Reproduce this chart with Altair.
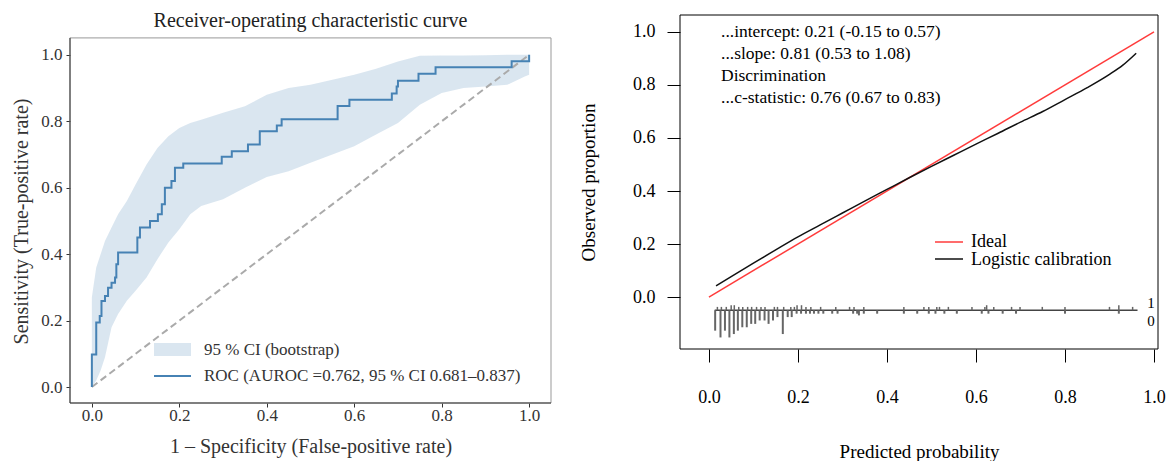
import altair as alt
import pandas as pd

# ---------------- data: ROC panel ----------------
roc_fpr = [0, 0, 0.01, 0.018, 0.022, 0.03, 0.037, 0.045, 0.053, 0.056, 0.06, 0.104, 0.11, 0.133,
           0.151, 0.16, 0.167, 0.182, 0.19, 0.209, 0.297, 0.32, 0.357, 0.384, 0.423, 0.434, 0.562,
           0.589, 0.686, 0.697, 0.70, 0.747, 0.786, 0.96, 1.0]
roc_tpr = [0, 0.098, 0.194, 0.214, 0.259, 0.274, 0.299, 0.314, 0.33, 0.37, 0.405, 0.45, 0.48, 0.50,
           0.52, 0.55, 0.60, 0.62, 0.66, 0.673, 0.693, 0.71, 0.73, 0.77, 0.787, 0.806, 0.846,
           0.865, 0.884, 0.905, 0.922, 0.943, 0.963, 0.981, 1.0]

ci_fpr = [0, 0.01, 0.02, 0.03, 0.045, 0.06, 0.08, 0.1, 0.125, 0.15, 0.175, 0.2, 0.225, 0.25, 0.3,
          0.35, 0.4, 0.45, 0.5, 0.55, 0.6, 0.65, 0.7, 0.75, 0.8, 0.85, 0.9, 0.95, 0.99, 1.0]
ci_lower = [0, 0.02, 0.05, 0.09, 0.18, 0.22, 0.26, 0.29, 0.33, 0.385, 0.435, 0.475, 0.52, 0.545,
            0.565, 0.60, 0.632, 0.65, 0.675, 0.70, 0.725, 0.76, 0.795, 0.85, 0.885, 0.90, 0.905,
            0.91, 0.935, 0.94]
ci_upper = [0.27, 0.36, 0.40, 0.44, 0.48, 0.52, 0.56, 0.61, 0.67, 0.72, 0.755, 0.78, 0.795, 0.805,
            0.826, 0.845, 0.88, 0.90, 0.91, 0.925, 0.94, 0.958, 0.98, 0.997, 0.998, 0.998, 0.999,
            1.0, 1.0, 1.0]

diag_x = [0, 1]
diag_y = [0, 1]

roc_title = "Receiver-operating characteristic curve"
roc_xlabel = "1 – Specificity (False-positive rate)"
roc_ylabel = "Sensitivity (True-positive rate)"
legend_ci = "95 % CI (bootstrap)"
legend_roc = "ROC (AUROC =0.762, 95 % CI 0.681–0.837)"

# ---------------- data: calibration panel ----------------
ideal_p = [0, 1]
ideal_o = [0, 1]
cal_p = [0.016, 0.05, 0.1, 0.15, 0.2, 0.25, 0.3, 0.35, 0.4, 0.45, 0.5, 0.55, 0.6, 0.65, 0.7,
         0.75, 0.8, 0.85, 0.9, 0.93, 0.96]
cal_o = [0.042, 0.077, 0.128, 0.178, 0.227, 0.272, 0.317, 0.362, 0.406, 0.45, 0.493, 0.535, 0.577,
         0.618, 0.66, 0.70, 0.745, 0.79, 0.84, 0.875, 0.92]

nonevent_p = [0.014, 0.026, 0.036, 0.046, 0.056, 0.065, 0.075, 0.085, 0.095, 0.104, 0.114, 0.125,
              0.134, 0.144, 0.154, 0.166, 0.177, 0.186, 0.197, 0.207, 0.218, 0.227, 0.236, 0.246,
              0.257, 0.277, 0.289, 0.324, 0.333, 0.337, 0.348, 0.378, 0.438, 0.468, 0.494, 0.509,
              0.529, 0.557, 0.613, 0.628, 0.66, 0.69, 0.80, 0.921]
nonevent_n = [6, 8, 6, 8, 7, 6, 5, 5, 4, 4, 3, 3, 4, 3, 2, 7, 2, 2, 1, 1, 1, 1, 1, 1, 1, 1, 1, 1,
              1, 1.5, 1, 1, 1, 1, 1, 1, 1, 1, 1, 1, 1, 1, 1, 1]
event_p = [0.019, 0.028, 0.039, 0.050, 0.057, 0.067, 0.076, 0.087, 0.096, 0.107, 0.117, 0.126,
           0.147, 0.154, 0.168, 0.184, 0.192, 0.198, 0.208, 0.218, 0.229, 0.251, 0.285, 0.316,
           0.326, 0.348, 0.438, 0.483, 0.494, 0.512, 0.518, 0.538, 0.591, 0.62, 0.624, 0.64,
           0.68, 0.699, 0.749, 0.80, 0.90, 0.921, 0.952]
event_n = [1, 1, 1, 1.5, 1.5, 1, 1, 1, 1, 1, 1, 1, 1, 1, 1, 1, 1, 1.5, 1.5, 1, 1, 1, 1, 1, 1, 1,
           1, 1, 1, 1, 1, 1, 1, 1, 1.5, 1, 1, 1, 1, 1, 1, 1.5, 1]

stats_lines = ["...intercept: 0.21 (-0.15 to 0.57)", "...slope: 0.81 (0.53 to 1.08)",
               "Discrimination", "...c-statistic: 0.76 (0.67 to 0.83)"]
cal_xlabel = "Predicted probability"
cal_ylabel = "Observed proportion"
legend_ideal = "Ideal"
legend_logistic = "Logistic calibration"

ticks = [0, 0.2, 0.4, 0.6, 0.8, 1.0]
FONT = "Liberation Serif"
one = pd.DataFrame({"a": [0]})

# ================= LEFT PANEL =================
W1, H1 = 481, 388
xs1 = alt.Scale(domain=[-0.05, 1.05], nice=False, zero=False)
ys1 = alt.Scale(domain=[-0.048, 1.12], nice=False, zero=False)

xax1 = alt.Axis(values=ticks, format=".1f", domain=False, tickSize=4, tickColor="#333",
                labelFontSize=17, labelColor="#333", labelPadding=0, labelFont=FONT, grid=False,
                title=roc_xlabel, titleFontSize=20, titleColor="#333", titlePadding=13,
                titleFont=FONT, titleFontWeight="normal")
yax1 = alt.Axis(values=ticks, format=".1f", domain=False, tickSize=4, tickColor="#333",
                labelFontSize=17, labelColor="#333", labelPadding=4, labelFont=FONT, grid=False,
                title=roc_ylabel, titleFontSize=20, titleColor="#333", titlePadding=9,
                titleFont=FONT, titleFontWeight="normal", titleY=206)

ci_df = pd.DataFrame({"fpr": ci_fpr, "lower": ci_lower, "upper": ci_upper})
roc_df = pd.DataFrame({"fpr": roc_fpr, "tpr": roc_tpr, "i": list(range(len(roc_fpr)))})
diag_df = pd.DataFrame({"x": diag_x, "y": diag_y})

band = alt.Chart(ci_df).mark_area(color="#4682b4", opacity=0.2).encode(
    x=alt.X("fpr:Q", scale=xs1, axis=xax1),
    y=alt.Y("lower:Q", scale=ys1, axis=yax1),
    y2="upper:Q",
)
diag = alt.Chart(diag_df).mark_line(color="#aaaaaa", strokeDash=[7, 4], strokeWidth=2).encode(
    x=alt.X("x:Q", scale=xs1, axis=xax1), y=alt.Y("y:Q", scale=ys1, axis=yax1))
roc = alt.Chart(roc_df).mark_line(color="#4682b4", strokeWidth=2, interpolate="step-after").encode(
    x=alt.X("fpr:Q", scale=xs1, axis=xax1), y=alt.Y("tpr:Q", scale=ys1, axis=yax1), order="i:Q")

frame1 = alt.Chart(one).mark_rect(fillOpacity=0, stroke="#999999", strokeWidth=1).encode(
    x=alt.datum(-0.05), x2=alt.datum(1.05), y=alt.datum(-0.048), y2=alt.datum(1.051))
spine_l = alt.Chart(one).mark_rule(color="#333333", strokeWidth=1).encode(
    x=alt.datum(-0.05), y=alt.datum(-0.048), y2=alt.datum(1.051))
spine_b = alt.Chart(one).mark_rule(color="#333333", strokeWidth=1).encode(
    x=alt.datum(-0.05), x2=alt.datum(1.05), y=alt.datum(-0.048))

title1 = alt.Chart(one).mark_text(fontSize=20, color="#222222", baseline="middle").encode(
    x=alt.value(W1 / 2), y=alt.value(6), text=alt.value(roc_title))

leg_patch = alt.Chart(one).mark_rect(color="#4682b4", opacity=0.2).encode(
    x=alt.value(84), x2=alt.value(121), y=alt.value(328), y2=alt.value(341))
leg_line = alt.Chart(one).mark_rule(color="#4682b4", strokeWidth=2).encode(
    x=alt.value(84), x2=alt.value(121), y=alt.value(361))
leg_t1 = alt.Chart(one).mark_text(fontSize=17, color="#333333", align="left", baseline="middle").encode(
    x=alt.value(134), y=alt.value(335), text=alt.value(legend_ci))
leg_t2 = alt.Chart(one).mark_text(fontSize=17, color="#333333", align="left", baseline="middle").encode(
    x=alt.value(134), y=alt.value(361), text=alt.value(legend_roc))

left = alt.layer(band, diag, roc, frame1, spine_l, spine_b, title1,
                 leg_patch, leg_line, leg_t1, leg_t2).properties(width=W1, height=H1)

# ================= RIGHT PANEL =================
W2, H2 = 478, 334
xs2 = alt.Scale(domain=[-0.065, 1.009], nice=False, zero=False)
ys2 = alt.Scale(domain=[-0.196, 1.064], nice=False, zero=False)

xax2 = alt.Axis(values=ticks, format=".1f", domain=False, tickSize=13, tickColor="black",
                labelFontSize=18, labelColor="black", labelPadding=26, labelFont=FONT, grid=False,
                title=cal_xlabel, titleFontSize=19, titleColor="black", titlePadding=36,
                titleFont=FONT, titleFontWeight="normal")
yax2 = alt.Axis(values=ticks, format=".1f", domain=False, tickSize=13, tickColor="black",
                labelFontSize=18, labelColor="black", labelPadding=12, labelFont=FONT, grid=False,
                title=cal_ylabel, titleFontSize=19, titleColor="black", titlePadding=34,
                titleFont=FONT, titleFontWeight="normal")

K = 0.0128
BASE = -0.05
ne_df = pd.DataFrame({"p": nonevent_p, "n": nonevent_n})
ne_df["y0"] = BASE
ne_df["y1"] = BASE - ne_df["n"] * K
ev_df = pd.DataFrame({"p": event_p, "n": event_n})
ev_df["y0"] = BASE
ev_df["y1"] = BASE + ev_df["n"] * K
ideal_df = pd.DataFrame({"p": ideal_p, "o": ideal_o})
cal_df = pd.DataFrame({"p": cal_p, "o": cal_o})

box = alt.Chart(one).mark_rect(fillOpacity=0, stroke="black", strokeWidth=1).encode(
    x=alt.value(0), x2=alt.value(W2), y=alt.value(0), y2=alt.value(H2))

ideal = alt.Chart(ideal_df).mark_line(color="#ff3b3b", strokeWidth=1.5).encode(
    x=alt.X("p:Q", scale=xs2, axis=xax2),
    y=alt.Y("o:Q", scale=ys2, axis=yax2))
calib = alt.Chart(cal_df).mark_line(color="#111111", strokeWidth=1.5, interpolate="monotone").encode(
    x=alt.X("p:Q", scale=xs2, axis=xax2), y=alt.Y("o:Q", scale=ys2, axis=yax2))

baseline = alt.Chart(one).mark_rule(color="#444444", strokeWidth=1.5).encode(
    x=alt.datum(0.013), x2=alt.datum(0.963), y=alt.datum(BASE))
ne_bars = alt.Chart(ne_df).mark_rule(color="#666666", strokeWidth=2).encode(
    x=alt.X("p:Q", scale=xs2, axis=xax2), y=alt.Y("y0:Q", scale=ys2, axis=yax2), y2="y1:Q")
ev_bars = alt.Chart(ev_df).mark_rule(color="#666666", strokeWidth=1.5).encode(
    x=alt.X("p:Q", scale=xs2, axis=xax2), y=alt.Y("y0:Q", scale=ys2, axis=yax2), y2="y1:Q")
lab1 = alt.Chart(one).mark_text(fontSize=15, color="black", align="left", baseline="middle").encode(
    x=alt.datum(0.985), y=alt.datum(-0.023), text=alt.value("1"))
lab0 = alt.Chart(one).mark_text(fontSize=15, color="black", align="left", baseline="middle").encode(
    x=alt.datum(0.985), y=alt.datum(-0.09), text=alt.value("0"))

stats = alt.Chart(one).mark_text(fontSize=17.5, color="black", align="left", baseline="top",
                                 lineBreak="\n", lineHeight=22).encode(
    x=alt.value(41), y=alt.value(8), text=alt.value("\n".join(stats_lines)))

leg_red = alt.Chart(one).mark_rule(color="#ff3b3b", strokeWidth=1.5).encode(
    x=alt.value(255), x2=alt.value(283), y=alt.value(227))
leg_blk = alt.Chart(one).mark_rule(color="#111111", strokeWidth=1.5).encode(
    x=alt.value(255), x2=alt.value(283), y=alt.value(244))
leg_ti = alt.Chart(one).mark_text(fontSize=18, color="black", align="left", baseline="middle").encode(
    x=alt.value(291), y=alt.value(227), text=alt.value(legend_ideal))
leg_tl = alt.Chart(one).mark_text(fontSize=18, color="black", align="left", baseline="middle").encode(
    x=alt.value(291), y=alt.value(245), text=alt.value(legend_logistic))

right = alt.layer(ideal, calib, baseline, ne_bars, ev_bars, lab1, lab0, stats,
                  leg_red, leg_blk, leg_ti, leg_tl, box).properties(width=W2, height=H2)

chart = alt.hconcat(left, right, spacing=27).properties(
    padding={"left": 3, "top": 3, "right": 0, "bottom": 0}
).configure(font=FONT).configure_view(stroke=None).configure_axis(
    labelFont=FONT, titleFont=FONT)

chart.save("out.html", embed_options={"renderer": "svg", "actions": False})
